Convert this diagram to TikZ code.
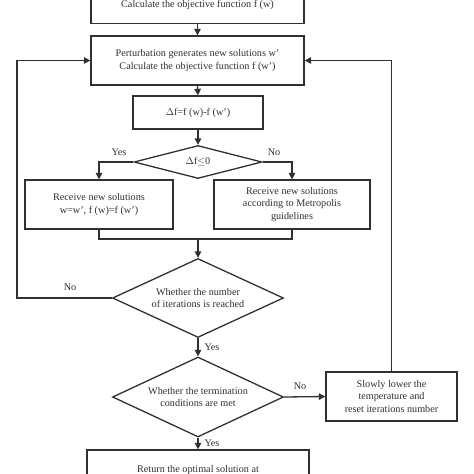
\documentclass[tikz,border=0pt]{standalone}
\usepackage{fontspec}
\setmainfont{Liberation Serif}
\usetikzlibrary{shapes.geometric,arrows.meta}
\definecolor{ink}{HTML}{303030}
\begin{document}
\begin{tikzpicture}[x=1pt,y=-1pt,
  every node/.style={text=ink,font=\fontsize{10.2}{12.5}\selectfont},
  box/.style={draw=ink,line width=1.3pt,rectangle,align=center,inner sep=0pt},
  dia/.style={draw=ink,line width=1.3pt,diamond,inner sep=0pt},
  lab/.style={align=center,inner sep=0pt},
  conn/.style={draw=ink,line width=1.3pt},
  arr/.style={conn,-{Triangle[length=6.5pt,width=6.5pt]}}]
\useasboundingbox (0,0) rectangle (474,474);
\clip (0,0) rectangle (474,474);
\node[box,minimum width=213pt,minimum height=38pt] (top) at (197.5,4.5) {Calculate the objective function f (w)};
\node[box,minimum width=213pt,minimum height=49pt] (gen) at (197.5,60.5) {Perturbation generates new solutions w'\\Calculate the objective function f (w')};
\node[box,minimum width=130pt,minimum height=33pt] (df) at (198,112.5) {$\Delta$f=f (w)-f (w')};
\node[dia,minimum width=128pt,minimum height=33pt] (d1) at (198,162) {};
\node[lab] at (d1.center) {$\Delta$f$\leq$0};
\node[box,minimum width=148pt,minimum height=49pt] (acc) at (99,204.5) {Receive new solutions\\w=w', f (w)=f (w')};
\node[box,minimum width=156pt,minimum height=49pt] (met) at (292,204.5) {Receive new solutions\\according to Metropolis\\guidelines};
\node[dia,minimum width=171pt,minimum height=79pt] (d2) at (198,298) {};
\node[lab] at (d2.center) {Whether the number\\of iterations is reached};
\node[dia,minimum width=171pt,minimum height=80pt] (d3) at (198,397) {};
\node[lab] at (d3.center) {Whether the termination\\conditions are met};
\node[box,minimum width=131pt,minimum height=49pt] (cool) at (391.5,396.5) {Slowly lower the\\temperature and\\reset iterations number};
\node[box,minimum width=222pt,minimum height=40pt] (ret) at (198,470) {Return the optimal solution at};
\coordinate (join) at (198,239);
\coordinate (lft) at (17,298);
\path[arr] (top.south) -- (gen.north);
\path[arr] (gen.south) -- (df.north);
\path[arr] (df.south) -- (d1.north);
\path[arr] (d1.west) -| (acc.north);
\path[arr] (d1.east) -| (met.north);
\path[conn] (acc.south) |- (join) -| (met.south);
\path[arr] (join) -- (d2.north);
\path[arr] (d2.west) -- (lft) |- (gen.west);
\path[arr] (d2.south) -- (d3.north);
\path[arr] (d3.east) -- (cool.west);
\path[arr] (cool.north) |- (gen.east);
\path[arr] (d3.south) -- (ret.north);
\node[lab] (y1) at (119,152) {Yes};
\node[lab] (n1) at (274,152) {No};
\node[lab] (n2) at (70,287) {No};
\node[lab] (y2) at (212,347) {Yes};
\node[lab] (n3) at (300,386) {No};
\node[lab] (y3) at (212,443) {Yes};
\end{tikzpicture}
\end{document}
